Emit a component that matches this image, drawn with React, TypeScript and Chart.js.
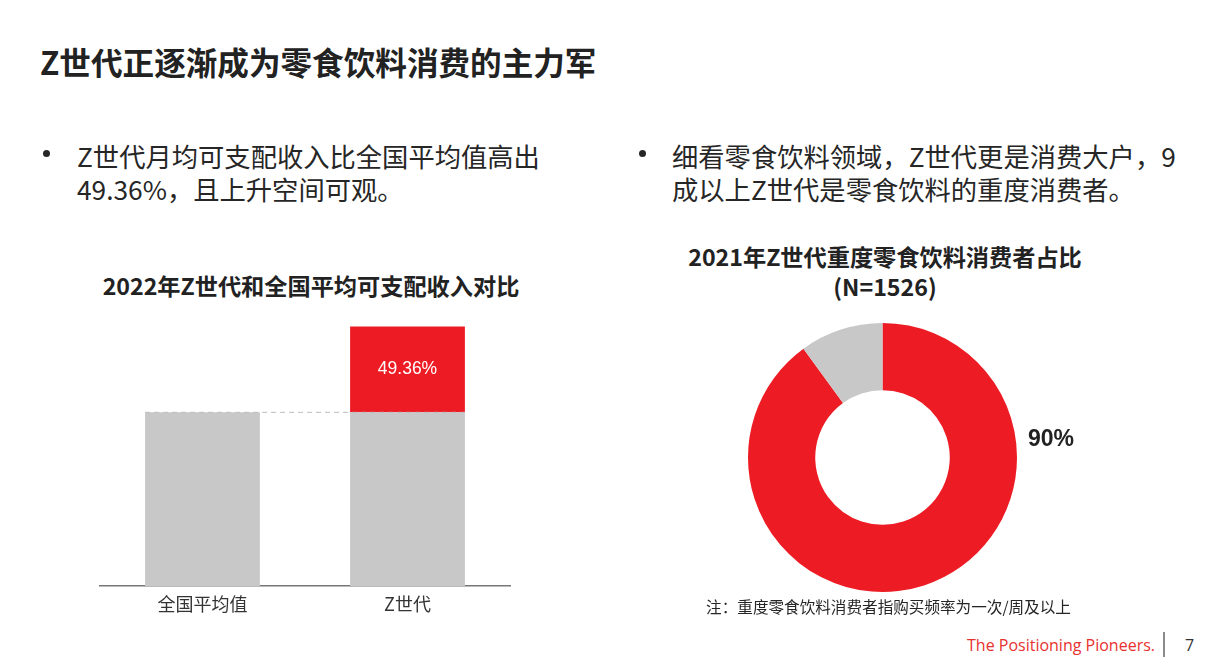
import React, { useEffect, useRef } from "react";
import { Chart, registerables } from "chart.js";

Chart.register(...registerables);

// Income comparison (national average indexed to 100)
const incomeCategories = ["全国平均值", "Z世代"];
const incomeBase = [100, 100];
const incomePremium = [0, 49.36];

// Share of heavy snack & beverage consumers among Gen Z
const shareLabels = ["重度消费者", "其他"];
const shareValues = [90, 10];

const RED = "#ED1C24";
const GRAY = "#C8C8C8";
const CJK = '"Noto Sans CJK SC", "Noto Sans", sans-serif';
const LATIN = '"Liberation Sans", Arial, sans-serif';

const premiumLabelPlugin = {
  id: "premiumLabel",
  afterDatasetsDraw(chart: any) {
    const { ctx } = chart;
    const meta = chart.getDatasetMeta(1);
    const base = chart.getDatasetMeta(0);
    // dashed reference line at the national-average level
    const y = chart.scales.y.getPixelForValue(incomeBase[0]);
    const first = base.data[0];
    const last = base.data[base.data.length - 1];
    ctx.save();
    ctx.strokeStyle = "#BDBDBD";
    ctx.lineWidth = 1;
    ctx.setLineDash([5, 4]);
    ctx.beginPath();
    ctx.moveTo(first.x - first.width / 2, y);
    ctx.lineTo(last.x + last.width / 2, y);
    ctx.stroke();
    ctx.restore();

    meta.data.forEach((bar: any, i: number) => {
      const v = incomePremium[i];
      if (!v) return;
      ctx.save();
      ctx.fillStyle = "#FFFFFF";
      ctx.font = `17.5px ${LATIN}`;
      ctx.textAlign = "center";
      ctx.textBaseline = "middle";
      ctx.fillText(`${v.toFixed(2)}%`, bar.x, (bar.y + bar.base) / 2);
      ctx.restore();
    });
  },
};

const shareLabelPlugin = {
  id: "shareLabel",
  afterDatasetsDraw(chart: any) {
    const { ctx } = chart;
    const arc = chart.getDatasetMeta(0).data[0] as any;
    ctx.save();
    ctx.fillStyle = "#222222";
    ctx.font = `bold 23px ${LATIN}`;
    ctx.textAlign = "center";
    ctx.textBaseline = "middle";
    ctx.fillText(`${shareValues[0]}%`, arc.x + arc.outerRadius + 34, arc.y - 18);
    ctx.restore();
  },
};

function IncomeChart() {
  const ref = useRef<HTMLCanvasElement>(null);
  useEffect(() => {
    const chart = new Chart(ref.current!, {
      type: "bar",
      data: {
        labels: incomeCategories,
        datasets: [
          { data: incomeBase, backgroundColor: GRAY, borderWidth: 0 },
          { data: incomePremium, backgroundColor: RED, borderWidth: 0 },
        ],
      },
      options: {
        animation: false,
        responsive: false,
        layout: { padding: { left: 10, right: 20, top: 9.5, bottom: 6.4 } },
        datasets: { bar: { categoryPercentage: 1, barPercentage: 0.56 } },
        plugins: { legend: { display: false }, tooltip: { enabled: false } },
        scales: {
          x: {
            stacked: true,
            grid: { display: false, drawTicks: false },
            border: { display: true, color: "#777777", width: 1.5 },
            ticks: { padding: 7, color: "#333333", font: { size: 18, family: CJK } },
          },
          y: { stacked: true, display: false, min: 0, max: 150 },
        },
      },
      plugins: [premiumLabelPlugin],
    });
    return () => chart.destroy();
  }, []);
  return (
    <canvas
      ref={ref}
      width={440}
      height={312}
      style={{ position: "absolute", left: 90, top: 316, width: 440, height: 312 }}
    />
  );
}

function ShareChart() {
  const ref = useRef<HTMLCanvasElement>(null);
  useEffect(() => {
    const chart = new Chart(ref.current!, {
      type: "doughnut",
      data: {
        labels: shareLabels,
        datasets: [{ data: shareValues, backgroundColor: [RED, GRAY], borderWidth: 0 }],
      },
      options: {
        animation: false,
        responsive: false,
        cutout: "50%",
        layout: { padding: { left: 8, right: 103, top: 5, bottom: 6 } },
        plugins: { legend: { display: false }, tooltip: { enabled: false } },
      },
      plugins: [shareLabelPlugin],
    });
    return () => chart.destroy();
  }, []);
  return (
    <canvas
      ref={ref}
      width={380}
      height={280}
      style={{ position: "absolute", left: 740, top: 318, width: 380, height: 280 }}
    />
  );
}

const abs = (s: React.CSSProperties): React.CSSProperties => ({ position: "absolute", whiteSpace: "nowrap", ...s });

const dot = (left: number, top: number) => (
  <div style={abs({ left, top, width: 7, height: 7, borderRadius: "50%", background: "#262626" })} />
);

export default function App() {
  return (
    <div
      style={{
        position: "fixed",
        left: 0,
        top: 0,
        width: 1218,
        height: 666,
        background: "#FFFFFF",
        overflow: "hidden",
        fontFamily: CJK,
        color: "#262626",
      }}
    >
      <div style={abs({ left: 40, top: 45, fontSize: 31.6, lineHeight: "32px", fontWeight: 700, color: "#222" })}>
        Z世代正逐渐成为零食饮料消费的主力军
      </div>

      {dot(42.5, 149.5)}
      <div style={abs({ left: 77, top: 138.5, fontSize: 26.3, lineHeight: "33px" })}>
        Z世代月均可支配收入比全国平均值高出
        <br />
        49.36%，且上升空间可观。
      </div>

      {dot(638.5, 149.5)}
      <div style={abs({ left: 672, top: 138.5, fontSize: 26.3, lineHeight: "33px" })}>
        细看零食饮料领域，Z世代更是消费大户，9
        <br />
        成以上Z世代是零食饮料的重度消费者。
      </div>

      <div
        style={abs({
          left: 311,
          top: 270,
          transform: "translateX(-50%)",
          fontSize: 23.2,
          lineHeight: "30px",
          fontWeight: 700,
          color: "#222",
        })}
      >
        2022年Z世代和全国平均可支配收入对比
      </div>
      <IncomeChart />

      <div
        style={abs({
          left: 885,
          top: 241,
          transform: "translateX(-50%)",
          fontSize: 23.2,
          lineHeight: "30px",
          fontWeight: 700,
          color: "#222",
          textAlign: "center",
        })}
      >
        2021年Z世代重度零食饮料消费者占比
        <br />
        (N=1526)
      </div>
      <ShareChart />
      <div
        style={abs({
          left: 888.5,
          top: 597,
          transform: "translateX(-50%)",
          fontSize: 15.6,
          lineHeight: "18px",
          color: "#262626",
        })}
      >
        注：重度零食饮料消费者指购买频率为一次/周及以上
      </div>

      <div
        style={abs({
          left: 967,
          top: 634,
          fontSize: 16,
          lineHeight: "22px",
          color: "#E8302F",
          fontFamily: '"Open Sans", "Noto Sans", sans-serif',
        })}
      >
        The Positioning Pioneers.
      </div>
      <div style={abs({ left: 1163, top: 632, width: 2, height: 25, background: "#8C8C8C" })} />
      <div
        style={abs({
          left: 1185,
          top: 634,
          fontSize: 16,
          lineHeight: "22px",
          color: "#333",
          fontFamily: '"Open Sans", "Noto Sans", sans-serif',
        })}
      >
        7
      </div>
    </div>
  );
}
